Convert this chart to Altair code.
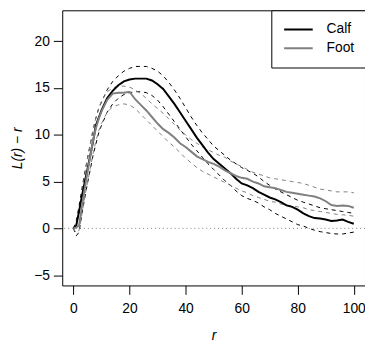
import altair as alt
import pandas as pd

r = [0, 1, 2, 3, 4, 5, 6, 7, 8, 9, 10, 12, 14, 16, 18, 20, 22, 24, 26, 28, 30, 32, 34, 36, 38,
     40, 42, 44, 46, 48, 50, 52, 54, 56, 58, 60, 62, 64, 66, 68, 70, 72, 74, 76, 78, 80, 82, 84,
     86, 88, 90, 92, 94, 96, 98, 100]

calf = [0, 0.3, 1.8, 3.4, 4.9, 6.3, 7.8, 9.3, 11.0, 11.8, 12.6, 13.9, 14.7, 15.3, 15.7, 15.9,
        16.0, 16.0, 16.0, 15.8, 15.4, 14.9, 14.1, 13.3, 12.4, 11.5, 10.6, 9.7, 8.9, 8.1, 7.4,
        6.9, 6.4, 5.9, 5.3, 4.8, 4.6, 4.3, 3.9, 3.6, 3.3, 3.1, 2.8, 2.45, 2.3, 2.0, 1.6, 1.3,
        1.1, 1.05, 0.95, 0.8, 0.85, 0.95, 0.7, 0.5]
calf_hi = [0, 0.8, 2.4, 4.2, 5.9, 7.5, 9.0, 10.5, 11.8, 12.8, 13.5, 14.8, 15.7, 16.3, 16.8,
           17.1, 17.3, 17.3, 17.3, 17.1, 16.8, 16.3, 15.6, 14.8, 13.9, 12.9, 11.9, 11.0, 10.2,
           9.5, 8.8, 8.3, 7.8, 7.3, 6.9, 6.5, 6.2, 5.9, 5.5, 5.0, 4.6, 4.2, 3.9, 3.6, 3.3, 3.0,
           2.8, 2.6, 2.4, 2.2, 2.1, 2.0, 1.9, 1.8, 1.7, 1.6]
calf_lo = [0, -0.8, -0.4, 1.5, 3.2, 4.8, 6.3, 7.8, 9.0, 10.2, 11.0, 12.4, 13.3, 13.9, 14.3,
           14.5, 14.6, 14.6, 14.5, 14.2, 13.7, 13.0, 12.2, 11.4, 10.6, 9.8, 9.0, 8.3, 7.6, 6.9,
           6.3, 5.7, 5.1, 4.6, 4.0, 3.5, 3.2, 3.0, 2.7, 2.3, 2.0, 1.6, 1.3, 1.0, 0.7, 0.4, 0.25,
           0.0, -0.2, -0.35, -0.45, -0.55, -0.6, -0.6, -0.5, -0.4]

foot = [0, 0.1, 0.3, 2.3, 4.2, 6.0, 7.7, 9.4, 10.7, 11.7, 12.5, 13.7, 14.4, 14.5, 14.5, 14.6,
        13.8, 13.2, 12.6, 11.9, 11.2, 10.6, 10.2, 9.7, 9.1, 8.7, 8.2, 7.7, 7.4, 7.1, 6.9, 6.6,
        6.2, 5.9, 5.6, 5.4, 5.3, 5.0, 4.8, 4.5, 4.4, 4.3, 4.1, 3.9, 3.8, 3.7, 3.6, 3.5, 3.4,
        3.2, 2.9, 2.5, 2.4, 2.45, 2.4, 2.2]
foot_hi = [0, 0.5, 1.6, 3.6, 5.6, 7.4, 9.0, 10.6, 11.8, 12.8, 13.6, 14.6, 15.0, 15.2, 15.2,
           15.1, 14.8, 14.4, 13.9, 13.3, 12.8, 12.3, 11.7, 11.1, 10.5, 10.0, 9.5, 9.1, 8.7, 8.4,
           8.1, 7.8, 7.6, 7.2, 6.9, 6.6, 6.3, 6.0, 5.8, 5.6, 5.4, 5.3, 5.2, 5.1, 5.0, 4.9, 4.8,
           4.6, 4.4, 4.2, 4.1, 4.0, 3.9, 3.9, 3.9, 3.8]
foot_lo = [0, -0.5, -0.2, 1.5, 3.3, 4.9, 6.4, 8.0, 9.3, 10.4, 11.2, 12.4, 13.0, 13.2, 13.3,
           13.2, 12.8, 12.2, 11.6, 11.0, 10.4, 9.8, 9.2, 8.7, 8.1, 7.5, 7.0, 6.5, 6.1, 5.8, 5.5,
           5.2, 4.9, 4.6, 4.3, 4.0, 3.8, 3.5, 3.3, 3.1, 2.9, 2.8, 2.6, 2.5, 2.4, 2.3, 2.2, 2.0,
           1.9, 1.8, 1.7, 1.6, 1.5, 1.45, 1.4, 1.3]

groups = ["Calf", "Foot"]
colors = ["#000000", "#808080"]

rows = []
for name, kind, vals in [("Calf", "main", calf), ("Calf", "hi", calf_hi), ("Calf", "lo", calf_lo),
                         ("Foot", "main", foot), ("Foot", "hi", foot_hi), ("Foot", "lo", foot_lo)]:
    for x, v in zip(r, vals):
        rows.append({"r": x, "L": v, "group": name, "kind": kind, "line": name + kind})
df = pd.DataFrame(rows)

FONT = "Liberation Sans"
FS = 14
xs = alt.Scale(domain=[-4, 104], nice=False, zero=False)
ys = alt.Scale(domain=[-6.1, 23.3], nice=False, zero=False)

xaxis = alt.Axis(values=[0, 20, 40, 60, 80, 100], grid=False, domain=False, tickSize=9,
                 tickColor="black", labelFontSize=FS, labelFont=FONT, labelColor="black",
                 labelPadding=7, title="r", titleFont=FONT, titleFontSize=FS,
                 titleFontStyle="italic", titleFontWeight="normal", titleColor="black",
                 titlePadding=14)
yaxis = alt.Axis(values=[-5, 0, 5, 10, 15, 20], grid=False, domain=False, tickSize=9,
                 tickColor="black", labelFontSize=FS, labelFont=FONT, labelColor="black",
                 labelPadding=4, title="L(r) − r", titleFont=FONT, titleFontSize=FS,
                 titleFontStyle="italic", titleFontWeight="normal", titleColor="black",
                 titlePadding=9)

zero = alt.Chart(pd.DataFrame({"y": [0]})).mark_rule(
    color="#808080", strokeDash=[1, 3], strokeWidth=1
).encode(y=alt.Y("y:Q", scale=ys, axis=yaxis))

env = alt.Chart(df[df.kind != "main"]).mark_line(strokeWidth=1, strokeDash=[4, 4]).encode(
    x=alt.X("r:Q", scale=xs, axis=xaxis),
    y=alt.Y("L:Q", scale=ys, axis=yaxis),
    color=alt.Color("group:N", scale=alt.Scale(domain=groups, range=colors), legend=None),
    detail="line:N",
)

main = alt.Chart(df[df.kind == "main"]).mark_line(strokeWidth=2).encode(
    x=alt.X("r:Q", scale=xs, axis=xaxis),
    y=alt.Y("L:Q", scale=ys, axis=yaxis),
    color=alt.Color("group:N", scale=alt.Scale(domain=groups, range=colors), legend=alt.Legend(
        title=None, orient="none", legendX=212, legendY=0, symbolType="stroke",
        symbolStrokeWidth=2, symbolSize=841, labelFontSize=FS, labelFont=FONT,
        labelColor="black", strokeColor="black", fillColor="white", padding=12,
        labelOffset=13, rowPadding=4, clipHeight=15, cornerRadius=0)),
    detail="line:N",
)

chart = alt.layer(zero, env, main).resolve_scale(color="independent").properties(
    width=307, height=279,
    autosize=alt.AutoSizeParams(type="none"),
    padding={"left": 55, "top": 0, "right": 0, "bottom": 56},
).configure_view(stroke="black", strokeWidth=1)

chart.save("out.html", embed_options={"renderer": "svg", "actions": False})
